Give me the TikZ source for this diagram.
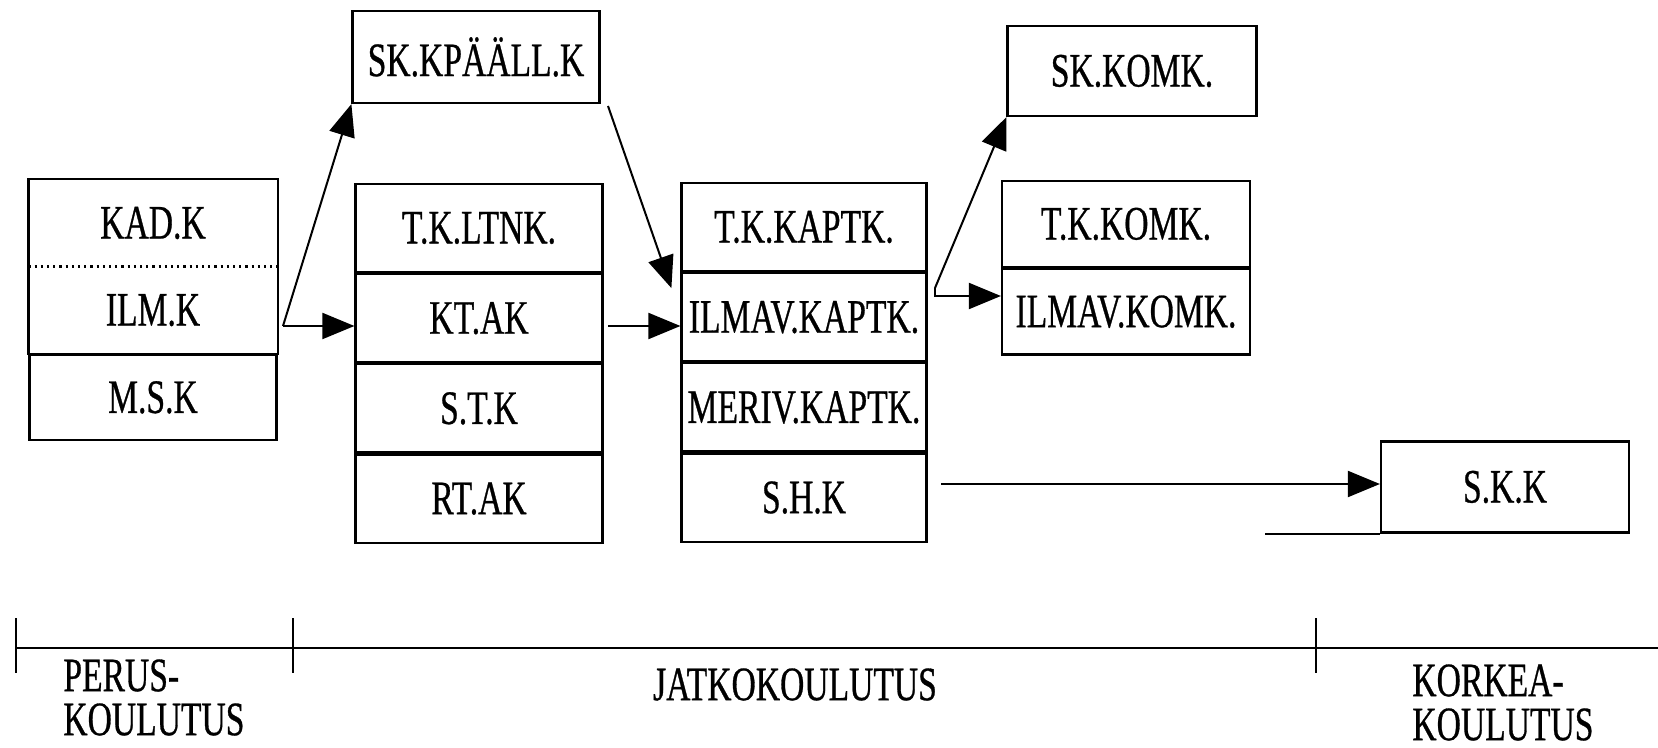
\documentclass[tikz,border=0pt]{standalone}
\usepackage{fontspec}
\setmainfont{Liberation Serif}[FakeStretch=0.7,FakeBold=0.6]
\usetikzlibrary{positioning,arrows.meta,calc}

\begin{document}
\begin{tikzpicture}[x=0.5pt,y=-0.5pt,
	cell/.style={draw,line width=1.1pt,minimum width=123.5pt,minimum height=44pt,inner sep=0pt,font=\fontsize{24}{24}\selectfont},
	arr/.style={line width=1pt,-{Triangle[length=16pt,width=13pt]}},
	lbl/.style={inner sep=0pt,align=left,font=\fontsize{24}{22}\selectfont},
	node distance=0pt]
	\useasboundingbox (0,0) rectangle (1658,748);

	% peruskoulutus
	\node[cell,draw=none,minimum height=42.5pt] (kad) at (153,223) {KAD.K};
	\node[cell,draw=none,minimum height=42.5pt,below=of kad] (ilm) {ILM.K};
	\node[cell,minimum height=42.5pt,below=of ilm] (msk) {M.S.K};
	\draw[line width=1.1pt] (kad.north west) rectangle (ilm.south east);
	\draw[line width=1.1pt,dotted] (kad.south west) -- (kad.south east);

	% jatkokoulutus
	\node[cell,minimum height=46pt] (skpaall) at (476,57) {SK.KPÄÄLL.K};
	\node[cell] (tkltnk) at (479,228) {T.K.LTNK.};
	\node[cell,below=of tkltnk] (ktak) {KT.AK};
	\node[cell,below=of ktak] (stk) {S.T.K};
	\node[cell,below=of stk] (rtak) {RT.AK};

	\node[cell,minimum width=122.5pt] (tkkaptk) at (804,227) {T.K.KAPTK.};
	\node[cell,minimum width=122.5pt,below=of tkkaptk] (ilmkaptk) {ILMAV.KAPTK.};
	\node[cell,minimum width=122.5pt,below=of ilmkaptk] (merkaptk) {MERIV.KAPTK.};
	\node[cell,minimum width=122.5pt,below=of merkaptk] (shk) {S.H.K};

	\node[cell,minimum width=124.5pt,minimum height=45pt] (skkomk) at (1132,71) {SK.KOMK.};
	\node[cell,minimum width=124pt,minimum height=42.75pt] (tkkomk) at (1126,224) {T.K.KOMK.};
	\node[cell,minimum width=124pt,minimum height=42.75pt,below=of tkkomk] (ilmkomk) {ILMAV.KOMK.};

	% korkeakoulutus
	\node[cell,minimum width=124pt,minimum height=45.5pt] (skk) at (1505,487) {S.K.K};

	% nuolet
	\coordinate (ilmout) at (283,326);
	\coordinate (skpout) at (608,106);
	\coordinate (ktaout) at (608,326);
	\coordinate (kapout) at (935,288);
	\coordinate (komout) at (935,296);
	\coordinate (shkout) at (941,484);

	\draw[arr] (ilmout) -- (skpaall.south west);
	\draw[arr] (ilmout) -- (ilmout -| ktak.west);
	\draw[arr] (skpout) -- ($(ilmkaptk.north west)+(-9,16)$);
	\draw[arr] (ktaout) -- (ktaout -| ilmkaptk.west);
	\draw[arr] (kapout) -- (skkomk.south west);
	\draw[arr] (kapout) -- (komout) -- (komout -| ilmkomk.west);
	\draw[arr] (shkout) -- (shkout -| skk.west);
	\draw[line width=1.1pt] (skk.south west) -- ++(-115,0);

	% aikajana
	\draw[line width=1.4pt] (16,648) -- (1658,648);
	\foreach \t in {16,293,1316}
		\draw[line width=0.8pt] (\t,618) -- (\t,673);

	\node[lbl,anchor=north west] (perus) at (63,659) {PERUS-\\KOULUTUS};
	\node[lbl,anchor=north] (jatko) at (795,668) {JATKOKOULUTUS};
	\node[lbl,anchor=north west] (korkea) at (1412,664) {KORKEA-\\KOULUTUS};
\end{tikzpicture}
\end{document}
